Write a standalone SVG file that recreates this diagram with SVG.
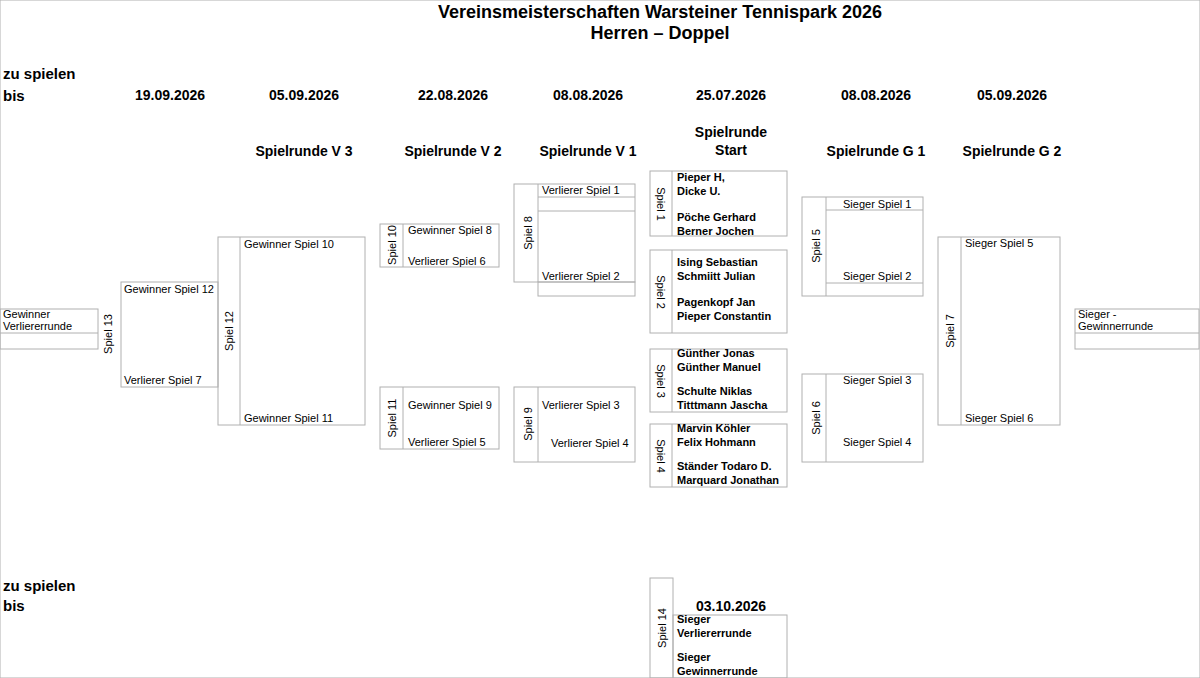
<svg xmlns="http://www.w3.org/2000/svg" width="1200" height="678" viewBox="0 0 1200 678">
<style>
text{font-family:"Liberation Sans",Arial,sans-serif;fill:#000}
.t{font-size:18px;font-weight:bold;text-anchor:middle}
.h{font-size:14px;font-weight:bold;text-anchor:middle}
.z{font-size:15px;font-weight:bold}
.n{font-size:11px}
.b{font-size:11px;font-weight:bold}
.v{font-size:11px;text-anchor:middle}
rect,line{fill:none;stroke:#b0b0b0;stroke-width:1}
</style>
<rect x="0" y="0" width="1200" height="678" fill="#fff" stroke="none"/>
<text class="t" x="660" y="18">Vereinsmeisterschaften Warsteiner Tennispark 2026</text>
<text class="t" x="660" y="39">Herren – Doppel</text>
<text class="z" x="3" y="79">zu spielen</text><text class="z" x="3" y="101">bis</text>
<text class="z" x="3" y="591">zu spielen</text><text class="z" x="3" y="611">bis</text>
<g class="dates">
<text class="h" x="170" y="100">19.09.2026</text>
<text class="h" x="304" y="100">05.09.2026</text>
<text class="h" x="453" y="100">22.08.2026</text>
<text class="h" x="588" y="100">08.08.2026</text>
<text class="h" x="731" y="100">25.07.2026</text>
<text class="h" x="876" y="100">08.08.2026</text>
<text class="h" x="1012" y="100">05.09.2026</text>
<text class="h" x="731" y="611">03.10.2026</text>
<text class="h" x="304" y="156">Spielrunde V 3</text>
<text class="h" x="453" y="156">Spielrunde V 2</text>
<text class="h" x="588" y="156">Spielrunde V 1</text>
<text class="h" x="731" y="137">Spielrunde</text>
<text class="h" x="731" y="155">Start</text>
<text class="h" x="876" y="156">Spielrunde G 1</text>
<text class="h" x="1012" y="156">Spielrunde G 2</text>
</g>
<g id="left-final">
<rect x="0" y="309" width="98" height="40"/><line x1="0" y1="333" x2="98" y2="333"/>
<text class="n" x="3" y="318">Gewinner</text><text class="n" x="3" y="330">Verliererrunde</text>
</g>
<g id="spiel13">
<text class="v" transform="translate(112,334) rotate(-90)">Spiel 13</text>
<rect x="121" y="282" width="97" height="105"/>
<text class="n" x="124" y="293">Gewinner Spiel 12</text><text class="n" x="124" y="384">Verlierer Spiel 7</text>
</g>
<g id="spiel12">
<rect x="218" y="237" width="147" height="188"/><line x1="240" y1="237" x2="240" y2="425"/>
<text class="v" transform="translate(233,331) rotate(-90)">Spiel 12</text>
<text class="n" x="244" y="248">Gewinner Spiel 10</text><text class="n" x="244" y="422">Gewinner Spiel 11</text>
</g>
<g id="spiel10">
<rect x="380" y="224" width="119" height="43"/><line x1="403" y1="224" x2="403" y2="267"/>
<text class="v" transform="translate(396,245) rotate(-90)">Spiel 10</text>
<text class="n" x="408" y="234">Gewinner Spiel 8</text><text class="n" x="408" y="265">Verlierer Spiel 6</text>
</g>
<g id="spiel11">
<rect x="380" y="387" width="119" height="62"/><line x1="403" y1="387" x2="403" y2="449"/>
<text class="v" transform="translate(396,418) rotate(-90)">Spiel 11</text>
<text class="n" x="408" y="409">Gewinner Spiel 9</text><text class="n" x="408" y="446">Verlierer Spiel 5</text>
</g>
<g id="spiel8">
<rect x="514" y="184" width="121" height="98"/><line x1="538" y1="184" x2="538" y2="282"/>
<line x1="538" y1="197" x2="635" y2="197"/><line x1="538" y1="211" x2="635" y2="211"/>
<rect x="538" y="282" width="97" height="14"/>
<text class="v" transform="translate(532,233) rotate(-90)">Spiel 8</text>
<text class="n" x="542" y="194">Verlierer Spiel 1</text><text class="n" x="542" y="280">Verlierer Spiel 2</text>
</g>
<g id="spiel9">
<rect x="514" y="387" width="121" height="75"/><line x1="538" y1="387" x2="538" y2="462"/>
<text class="v" transform="translate(532,424) rotate(-90)">Spiel 9</text>
<text class="n" x="542" y="409">Verlierer Spiel 3</text><text class="n" x="551" y="447">Verlierer Spiel 4</text>
</g>
<g id="spiel1">
<rect x="650" y="171" width="137" height="65"/><line x1="672" y1="171" x2="672" y2="236"/>
<text class="v" transform="translate(657,204) rotate(90)">Spiel 1</text>
<text class="b" x="677" y="181">Pieper H,</text><text class="b" x="677" y="195">Dicke U.</text>
<text class="b" x="677" y="221">Pöche Gerhard</text><text class="b" x="677" y="235">Berner Jochen</text>
</g>
<g id="spiel2">
<rect x="650" y="250" width="137" height="83"/><line x1="672" y1="250" x2="672" y2="333"/>
<text class="v" transform="translate(657,292) rotate(90)">Spiel 2</text>
<text class="b" x="677" y="266">Ising Sebastian</text><text class="b" x="677" y="280">Schmiitt Julian</text>
<text class="b" x="677" y="306">Pagenkopf Jan</text><text class="b" x="677" y="320">Pieper Constantin</text>
</g>
<g id="spiel3">
<rect x="650" y="349" width="137" height="63"/><line x1="672" y1="349" x2="672" y2="412"/>
<text class="v" transform="translate(657,381) rotate(90)">Spiel 3</text>
<text class="b" x="677" y="357">Günther Jonas</text><text class="b" x="677" y="371">Günther Manuel</text>
<text class="b" x="677" y="395">Schulte Niklas</text><text class="b" x="677" y="409">Titttmann Jascha</text>
</g>
<g id="spiel4">
<rect x="650" y="424" width="137" height="63"/><line x1="672" y1="424" x2="672" y2="487"/>
<text class="v" transform="translate(657,456) rotate(90)">Spiel 4</text>
<text class="b" x="677" y="432">Marvin Köhler</text><text class="b" x="677" y="446">Felix Hohmann</text>
<text class="b" x="677" y="470">Ständer Todaro D.</text><text class="b" x="677" y="484">Marquard Jonathan</text>
</g>
<g id="spiel14">
<rect x="650" y="578" width="23" height="100"/>
<rect x="673" y="615" width="114" height="63"/>
<text class="v" transform="translate(666,628) rotate(-90)">Spiel 14</text>
<text class="b" x="677" y="623">Sieger</text><text class="b" x="677" y="637">Verliererrunde</text>
<text class="b" x="677" y="661">Sieger</text><text class="b" x="677" y="675">Gewinnerrunde</text>
</g>
<g id="spiel5">
<rect x="802" y="197" width="121" height="99"/><line x1="826" y1="197" x2="826" y2="296"/>
<line x1="826" y1="210" x2="923" y2="210"/><line x1="826" y1="283" x2="923" y2="283"/>
<text class="v" transform="translate(820,246) rotate(-90)">Spiel 5</text>
<text class="n" x="843" y="208">Sieger Spiel 1</text><text class="n" x="843" y="280">Sieger Spiel 2</text>
</g>
<g id="spiel6">
<rect x="802" y="374" width="121" height="88"/><line x1="826" y1="374" x2="826" y2="462"/>
<text class="v" transform="translate(820,418) rotate(-90)">Spiel 6</text>
<text class="n" x="843" y="384">Sieger Spiel 3</text><text class="n" x="843" y="446">Sieger Spiel 4</text>
</g>
<g id="spiel7">
<rect x="938" y="237" width="122" height="188"/><line x1="961" y1="237" x2="961" y2="425"/>
<text class="v" transform="translate(954,331) rotate(-90)">Spiel 7</text>
<text class="n" x="965" y="247">Sieger Spiel 5</text><text class="n" x="965" y="422">Sieger Spiel 6</text>
</g>
<g id="right-final">
<rect x="1075" y="309" width="124" height="40"/><line x1="1075" y1="333" x2="1199" y2="333"/>
<text class="n" x="1078" y="318">Sieger -</text><text class="n" x="1078" y="330">Gewinnerrunde</text>
</g>
<g id="connectors"></g>
</svg>
